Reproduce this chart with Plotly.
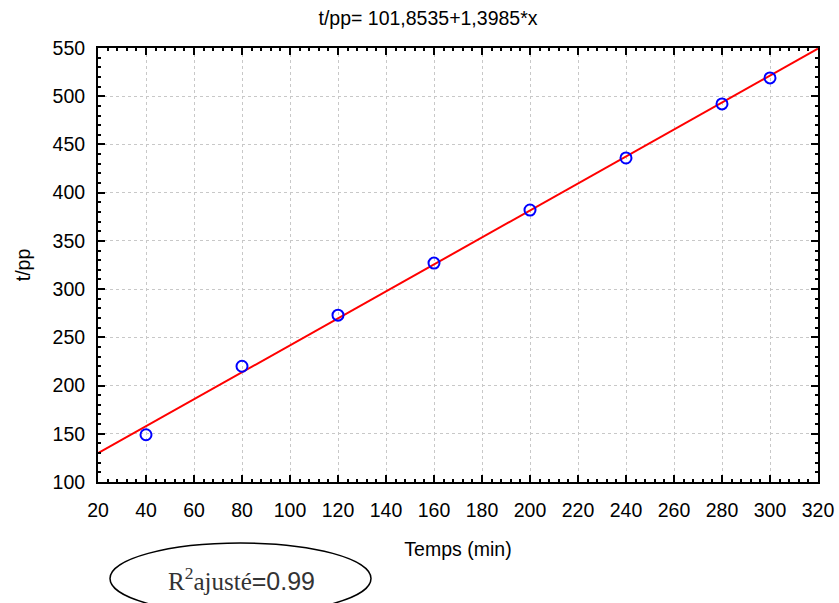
import plotly.graph_objects as go

temps = [40, 80, 120, 160, 200, 240, 280, 300]
tpp = [149, 220, 273, 327, 382, 436, 492, 519]
intercept = 101.8535
slope = 1.3985
fit_x = [20, 320]
fit_y = [intercept + slope * v for v in fit_x]

W, H = 839, 603
L, R, T, B = 98, 21, 48, 121
PW, PH = W - L - R, H - T - B

def px(xp):
    return (xp - L) / PW

def py(yp):
    return (H - B - yp) / PH

fig = go.Figure()
fig.add_trace(go.Scatter(x=fit_x, y=fit_y, mode="lines",
                         line=dict(color="#ff0000", width=2), showlegend=False))
fig.add_trace(go.Scatter(x=temps, y=tpp, mode="markers",
                         marker=dict(symbol="circle-open", size=11, color="#0000ff",
                                     line=dict(width=2, color="#0000ff")),
                         showlegend=False))

FS = 19.5
axfont = dict(family="Liberation Sans, Arial", size=FS, color="#000000")
common = dict(showline=True, linecolor="#000000", linewidth=2, mirror="ticks",
              ticks="inside", ticklen=7, tickwidth=2, tickcolor="#000000",
              showgrid=True, gridcolor="#c8c8c8", griddash="dot", gridwidth=1,
              zeroline=False, tickfont=axfont, automargin=False)

fig.update_xaxes(range=[20, 320], dtick=20, tick0=20,
                 minor=dict(dtick=4, ticks="inside", ticklen=3, tickwidth=1.5,
                            tickcolor="#000000", showgrid=False),
                 ticklabelstandoff=10,
                 title=dict(text="Temps (min)", font=dict(family="Liberation Sans, Arial", size=FS, color="#000"),
                            standoff=22),
                 **common)
fig.update_yaxes(range=[100, 550], dtick=50, tick0=100,
                 minor=dict(dtick=10, ticks="inside", ticklen=3, tickwidth=1.5,
                            tickcolor="#000000", showgrid=False),
                 ticklabelstandoff=7,
                 title=dict(text="t/pp", font=dict(family="Liberation Sans, Arial", size=FS, color="#000"),
                            standoff=17),
                 **common)

fig.update_layout(
    width=W, height=H,
    margin=dict(l=L, r=R, t=T, b=B, autoexpand=False),
    paper_bgcolor="#ffffff", plot_bgcolor="#ffffff",
    title=dict(text="t/pp= 101,8535+1,3985*x", x=428 / W, xanchor="center",
               y=1 - 18 / H, yanchor="middle", xref="container", yref="container",
               pad=dict(t=0, b=0, l=0, r=0),
               font=dict(family="Liberation Sans, Arial", size=FS, color="#000")),
)

fig.add_shape(type="circle", xref="paper", yref="paper",
              x0=px(110), x1=px(371), y0=py(543), y1=py(614),
              line=dict(color="#000000", width=1.5))

fig.add_annotation(xref="paper", yref="paper",
                   x=px(241), y=py(579),
                   xanchor="center", yanchor="middle", showarrow=False,
                   text="<span style='font-family:Liberation Serif, Times New Roman'>R<sup>2</sup>ajusté</span>=0.99",
                   font=dict(family="Liberation Sans, Arial", size=25, color="#333333"))

fig.write_html("out.html", config={"displayModeBar": False},
               post_script="document.body.style.margin='0';document.body.style.overflow='hidden';")
